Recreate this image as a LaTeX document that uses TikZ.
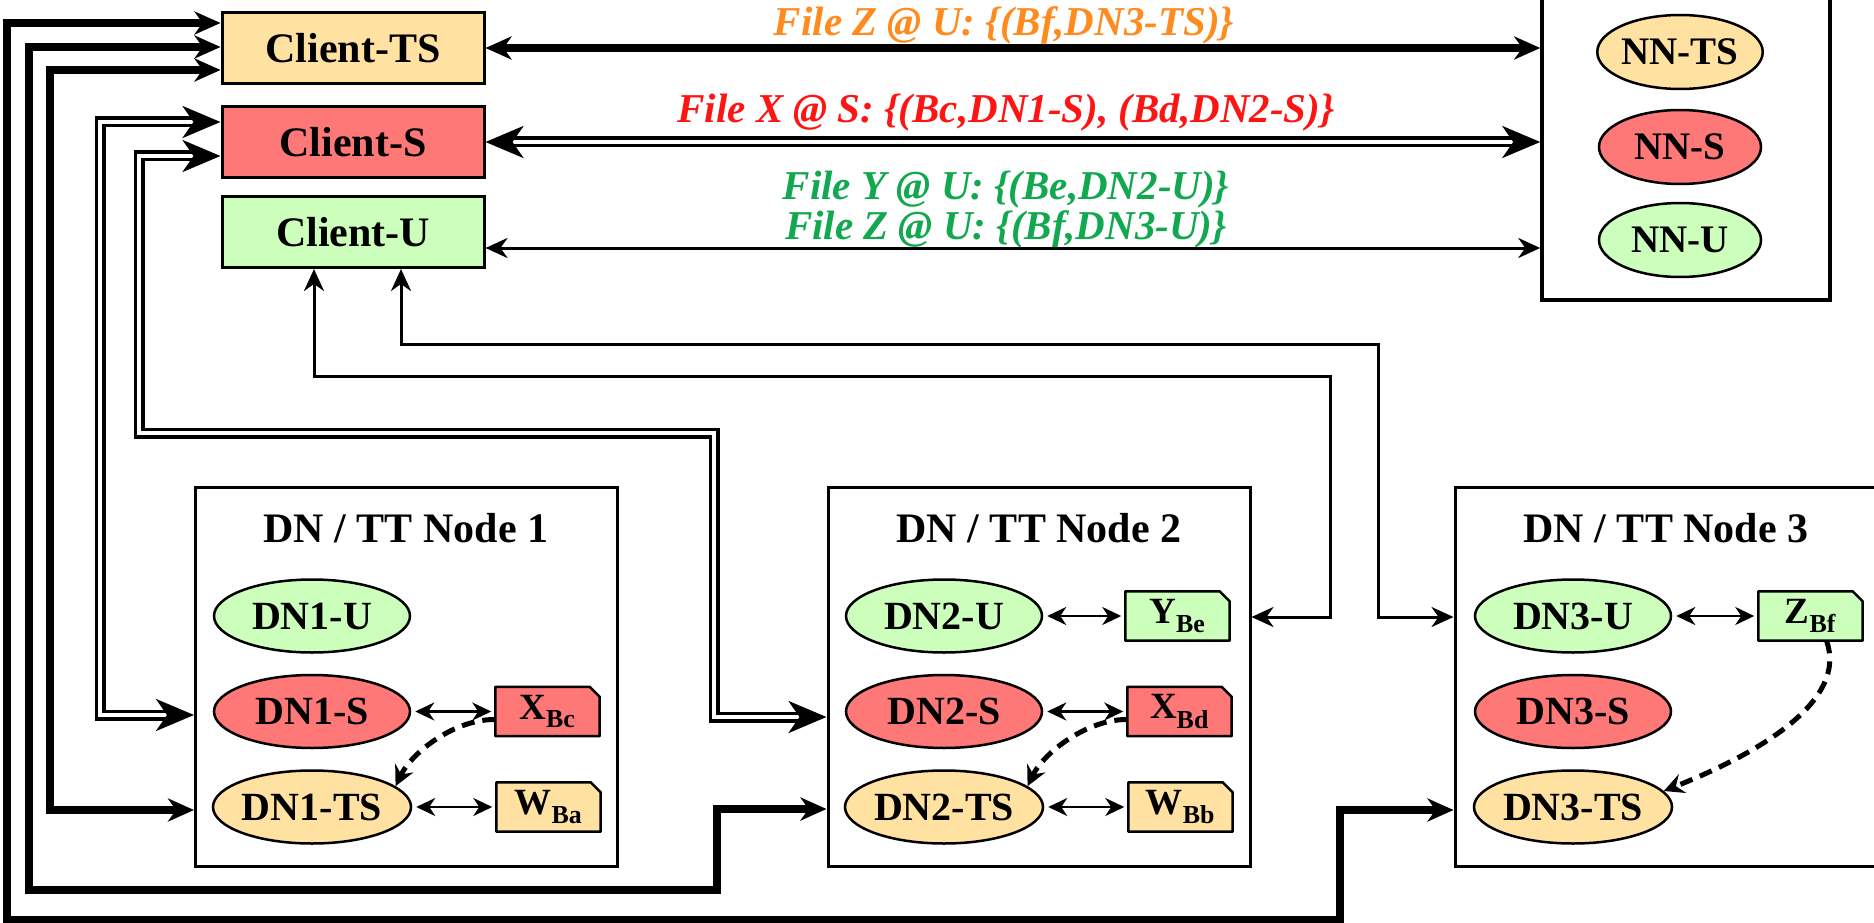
\documentclass[tikz,border=0pt]{standalone}
\usepackage{fontspec}
\setmainfont{Liberation Serif}
\usepackage{xcolor}
\usetikzlibrary{arrows.meta,positioning,shapes.geometric,backgrounds}
\definecolor{tsfill}{HTML}{FFE2A2}
\definecolor{sfill}{HTML}{FF7878}
\definecolor{ufill}{HTML}{CCFFBB}
\definecolor{tslabel}{HTML}{FF8A1E}
\definecolor{slabel}{HTML}{FF1414}
\definecolor{ulabel}{HTML}{12A850}
\newcommand{\boxfnt}{\fontsize{42}{48}\selectfont\bfseries}
\newcommand{\dnfnt}{\fontsize{40}{46}\selectfont\bfseries}
\newcommand{\nnfnt}{\fontsize{39}{44}\selectfont\bfseries}
\newcommand{\ttlfnt}{\fontsize{42}{48}\selectfont\bfseries}
\newcommand{\docfnt}{\fontsize{37}{40}\selectfont\bfseries}
\newcommand{\filefnt}{\fontsize{41}{40}\selectfont\bfseries\itshape}

\begin{document}
\begin{tikzpicture}[x=1pt,y=-1pt,
  client/.style={draw,line width=3pt,minimum width=262pt,minimum height=71pt,inner sep=0pt,font=\boxfnt},
  dn/.style={draw,ellipse,line width=2.5pt,minimum width=196pt,minimum height=73pt,inner sep=0pt,font=\dnfnt},
  nn/.style={dn,minimum width=162pt,minimum height=74pt,font=\nnfnt},
  grp/.style={draw,line width=3pt,minimum width=422pt,minimum height=379pt,inner sep=0pt},
  doc/.style={minimum width=104pt,minimum height=49pt,inner sep=0pt,font=\docfnt},
  thk/.style={line width=7.5pt,{Stealth[length=26pt,width=23pt,inset=8pt]}-{Stealth[length=26pt,width=23pt,inset=8pt]}},
  dbl/.style={double,line width=3.5pt,double distance=4pt,{Stealth[length=38pt,width=32pt,inset=11pt]}-{Stealth[length=38pt,width=32pt,inset=11pt]}},
  thn/.style={line width=3pt,{Stealth[length=22pt,width=20pt,inset=7pt]}-{Stealth[length=22pt,width=20pt,inset=7pt]}},
  sml/.style={line width=2.5pt,shorten <=4pt,shorten >=4pt,{Stealth[length=19pt,width=18pt,inset=6pt]}-{Stealth[length=19pt,width=18pt,inset=6pt]}},
  dsh/.style={line width=5pt,dash pattern=on 13pt off 8pt,-{Stealth[length=20pt,width=20pt,inset=7pt]}}]
  \useasboundingbox (0,0) rectangle (1874,923);
  \clip (0,0) rectangle (1874,923);
  % clients and name nodes
  \node[client,fill=tsfill] (cts) at (353,48) {Client-TS};
  \node[client,fill=sfill] (cs) at (353,142) {Client-S};
  \node[client,fill=ufill] (cu) at (353,232) {Client-U};
  \node[draw,line width=3.5pt,minimum width=288pt,minimum height=310pt] (nnb) at (1686,145) {};
  \node[nn,fill=tsfill] (nnts) at (1680,52) {NN-TS};
  \node[nn,fill=sfill] (nns) at (1680,147) {NN-S};
  \node[nn,fill=ufill] (nnu) at (1680,240) {NN-U};
  \node[font=\filefnt,text=tslabel] (lzts) at (1004,25) {File Z @ U: \{(Bf,DN3-TS)\}};
  \node[font=\filefnt,text=slabel] (lxs) at (1006,113) {File X @ S: \{(Bc,DN1-S), (Bd,DN2-S)\}};
  \node[font=\filefnt,text=ulabel,align=center] (lyzu) at (1006,210) {File Y @ U: \{(Be,DN2-U)\}\\File Z @ U: \{(Bf,DN3-U)\}};
  % DN / TT nodes
  \node[grp] (n1) at (406.5,676.5) {};
  \node[grp] (n2) at (1039,676.5) {};
  \node[grp] (n3) at (1666,676.5) {};
  \node[font=\ttlfnt] (t1) at (406,528) {DN / TT Node 1};
  \node[font=\ttlfnt] (t2) at (1039,528) {DN / TT Node 2};
  \node[font=\ttlfnt] (t3) at (1666,528) {DN / TT Node 3};
  \node[dn,fill=ufill] (dn1u) at (312,616) {DN1-U};
  \node[dn,fill=sfill,below=20pt of dn1u] (dn1s) {DN1-S};
  \node[dn,fill=tsfill,below=20pt of dn1s] (dn1ts) {DN1-TS};
  \node[dn,fill=ufill] (dn2u) at (944,616) {DN2-U};
  \node[dn,fill=sfill,below=20pt of dn2u] (dn2s) {DN2-S};
  \node[dn,fill=tsfill,below=20pt of dn2s] (dn2ts) {DN2-TS};
  \node[dn,fill=ufill] (dn3u) at (1573,616) {DN3-U};
  \node[dn,fill=sfill,below=20pt of dn3u] (dn3s) {DN3-S};
  \node[dn,fill=tsfill,below=20pt of dn3s] (dn3ts) {DN3-TS};
  \node[doc,right=84pt of dn1s] (xbc) {X\textsubscript{Bc}};
  \node[doc,right=84pt of dn1ts] (wba) {W\textsubscript{Ba}};
  \node[doc,right=82pt of dn2u] (ybe) {Y\textsubscript{Be}};
  \node[doc,right=84pt of dn2s] (xbd) {X\textsubscript{Bd}};
  \node[doc,right=84pt of dn2ts] (wbb) {W\textsubscript{Bb}};
  \node[doc,right=86pt of dn3u] (zbf) {Z\textsubscript{Bf}};
  \begin{scope}[on background layer]
    \fill[white] (0,0) rectangle (1874,923);
    \foreach \d/\c in {xbc/sfill,wba/tsfill,ybe/ufill,xbd/sfill,wbb/tsfill,zbf/ufill}
      \draw[line width=2.5pt,fill=\c,line join=round] (\d.south west) -- (\d.north west) -- ([xshift=-10pt]\d.north east)
        -- ([yshift=-10pt]\d.north east) -- (\d.south east) -- cycle;
  \end{scope}
  \draw[sml] (dn1s) -- (xbc); \draw[sml] (dn1ts) -- (wba);
  \draw[sml] (dn2u) -- (ybe); \draw[sml] (dn2s) -- (xbd); \draw[sml] (dn2ts) -- (wbb);
  \draw[sml] (dn3u) -- (zbf);
  \draw[dsh] ([yshift=-8pt]xbc.west) .. controls (455,719) and (412,752) .. (dn1ts.14);
  \draw[dsh] ([yshift=-8pt]xbd.west) .. controls (1088,719) and (1044,752) .. (dn2ts.14);
  \draw[dsh] ([xshift=16pt]zbf.south) .. controls (1848,700) and (1762,752) .. (dn3ts.10);
  % client <-> name nodes
  \draw[thk] (cts.east) -- (cts.east -| nnb.west);
  \draw[dbl] (cs.east) -- (cs.east -| nnb.west);
  \coordinate (cuout) at ([yshift=-16pt]cu.east);
  \draw[thn] (cuout) -- (cuout -| nnb.west);
  % client <-> data nodes
  \coordinate (c1) at (50,810);
  \coordinate (c2) at (717,809);
  \coordinate (c3) at (1340,810);
  \draw[thk] ([yshift=25pt]cts.west) -| (7,920) -| (c3) -- (c3 -| n3.west);
  \draw[thk] ([yshift=1pt]cts.west) -| (29,890) -| (c2) -- (c2 -| n2.west);
  \draw[thk] ([yshift=-22pt]cts.west) -| (c1) -- (c1 -| n1.west);
  \coordinate (d1) at (100,715);
  \coordinate (d2) at (714,717);
  \draw[dbl] ([yshift=20pt]cs.west) -| (d1) -- (d1 -| n1.west);
  \draw[dbl] ([yshift=-14pt]cs.west) -| (139,433) -| (d2) -- (d2 -| n2.west);
  \coordinate (u2) at (1330,617);
  \coordinate (u3) at (1378,617);
  \draw[thn] ([xshift=-39pt]cu.south) |- (1330,376) |- (u2 -| n2.east);
  \draw[thn] ([xshift=48pt]cu.south) |- (1378,344) |- (u3 -| n3.west);
\end{tikzpicture}
\end{document}
